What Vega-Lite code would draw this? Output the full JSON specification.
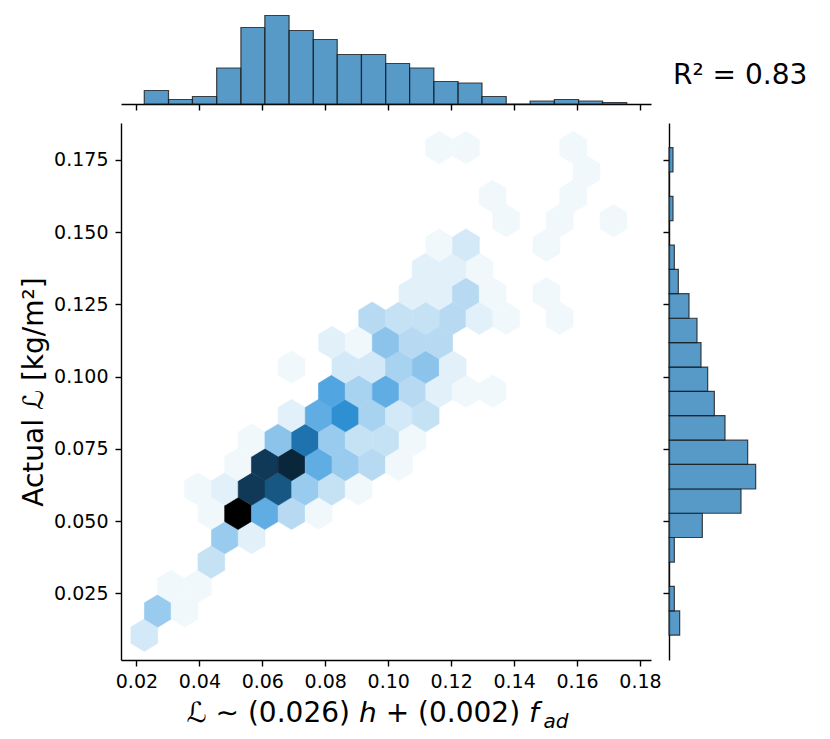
{
  "$schema": "https://vega.github.io/schema/vega-lite/v6.json",
  "padding": {"left": 20, "top": 11, "right": 5, "bottom": 5},
  "background": "white",
  "config": {
    "font": "DejaVu Sans",
    "view": {"stroke": null},
    "axis": {
      "grid": false,
      "domainColor": "#000000",
      "tickColor": "#000000",
      "labelColor": "#000000",
      "titleColor": "#000000",
      "domainWidth": 1.4,
      "tickWidth": 1.4,
      "tickSize": 6,
      "labelFontSize": 19,
      "titleFontSize": 28,
      "titleFontWeight": "normal",
      "labelFlush": false,
      "labelOverlap": false
    }
  },
  "datasets": {
    "hex": [
      {"x": 0.0225, "y": 0.0105, "n": 3},
      {"x": 0.0268, "y": 0.0189, "n": 7},
      {"x": 0.0353, "y": 0.0189, "n": 1},
      {"x": 0.031, "y": 0.0274, "n": 1},
      {"x": 0.0395, "y": 0.0274, "n": 1},
      {"x": 0.0438, "y": 0.0358, "n": 4},
      {"x": 0.0481, "y": 0.0443, "n": 7},
      {"x": 0.0566, "y": 0.0443, "n": 2},
      {"x": 0.0438, "y": 0.0527, "n": 1},
      {"x": 0.0523, "y": 0.0527, "n": 30},
      {"x": 0.0608, "y": 0.0527, "n": 11},
      {"x": 0.0693, "y": 0.0527, "n": 5},
      {"x": 0.0779, "y": 0.0527, "n": 1},
      {"x": 0.0395, "y": 0.0611, "n": 1},
      {"x": 0.0481, "y": 0.0611, "n": 2},
      {"x": 0.0566, "y": 0.0611, "n": 24},
      {"x": 0.0651, "y": 0.0611, "n": 21},
      {"x": 0.0736, "y": 0.0611, "n": 7},
      {"x": 0.0821, "y": 0.0611, "n": 4},
      {"x": 0.0906, "y": 0.0611, "n": 1},
      {"x": 0.0523, "y": 0.0696, "n": 1},
      {"x": 0.0608, "y": 0.0696, "n": 24},
      {"x": 0.0693, "y": 0.0696, "n": 26},
      {"x": 0.0779, "y": 0.0696, "n": 11},
      {"x": 0.0864, "y": 0.0696, "n": 7},
      {"x": 0.0949, "y": 0.0696, "n": 5},
      {"x": 0.1034, "y": 0.0696, "n": 1},
      {"x": 0.0566, "y": 0.078, "n": 1},
      {"x": 0.0651, "y": 0.078, "n": 8},
      {"x": 0.0736, "y": 0.078, "n": 18},
      {"x": 0.0821, "y": 0.078, "n": 7},
      {"x": 0.0906, "y": 0.078, "n": 4},
      {"x": 0.0992, "y": 0.078, "n": 4},
      {"x": 0.1077, "y": 0.078, "n": 1},
      {"x": 0.0693, "y": 0.0865, "n": 2},
      {"x": 0.0779, "y": 0.0865, "n": 11},
      {"x": 0.0864, "y": 0.0865, "n": 15},
      {"x": 0.0949, "y": 0.0865, "n": 6},
      {"x": 0.1034, "y": 0.0865, "n": 3},
      {"x": 0.1119, "y": 0.0865, "n": 4},
      {"x": 0.0821, "y": 0.0949, "n": 12},
      {"x": 0.0906, "y": 0.0949, "n": 6},
      {"x": 0.0992, "y": 0.0949, "n": 11},
      {"x": 0.1077, "y": 0.0949, "n": 5},
      {"x": 0.1162, "y": 0.0949, "n": 2},
      {"x": 0.1247, "y": 0.0949, "n": 1},
      {"x": 0.1332, "y": 0.0949, "n": 1},
      {"x": 0.0693, "y": 0.1033, "n": 1},
      {"x": 0.0864, "y": 0.1033, "n": 3},
      {"x": 0.0949, "y": 0.1033, "n": 3},
      {"x": 0.1034, "y": 0.1033, "n": 6},
      {"x": 0.1119, "y": 0.1033, "n": 8},
      {"x": 0.1205, "y": 0.1033, "n": 2},
      {"x": 0.0821, "y": 0.1118, "n": 2},
      {"x": 0.0906, "y": 0.1118, "n": 1},
      {"x": 0.0992, "y": 0.1118, "n": 8},
      {"x": 0.1077, "y": 0.1118, "n": 5},
      {"x": 0.1162, "y": 0.1118, "n": 5},
      {"x": 0.0949, "y": 0.1202, "n": 5},
      {"x": 0.1034, "y": 0.1202, "n": 4},
      {"x": 0.1119, "y": 0.1202, "n": 4},
      {"x": 0.1205, "y": 0.1202, "n": 5},
      {"x": 0.129, "y": 0.1202, "n": 2},
      {"x": 0.1375, "y": 0.1202, "n": 1},
      {"x": 0.1545, "y": 0.1202, "n": 1},
      {"x": 0.1077, "y": 0.1287, "n": 2},
      {"x": 0.1162, "y": 0.1287, "n": 2},
      {"x": 0.1247, "y": 0.1287, "n": 5},
      {"x": 0.1332, "y": 0.1287, "n": 1},
      {"x": 0.1503, "y": 0.1287, "n": 1},
      {"x": 0.1119, "y": 0.1371, "n": 2},
      {"x": 0.1205, "y": 0.1371, "n": 2},
      {"x": 0.129, "y": 0.1371, "n": 1},
      {"x": 0.1162, "y": 0.1455, "n": 1},
      {"x": 0.1247, "y": 0.1455, "n": 3},
      {"x": 0.1503, "y": 0.1455, "n": 1},
      {"x": 0.1375, "y": 0.154, "n": 1},
      {"x": 0.1545, "y": 0.154, "n": 1},
      {"x": 0.1716, "y": 0.154, "n": 1},
      {"x": 0.1332, "y": 0.1624, "n": 1},
      {"x": 0.1588, "y": 0.1624, "n": 1},
      {"x": 0.163, "y": 0.1709, "n": 1},
      {"x": 0.1162, "y": 0.1793, "n": 1},
      {"x": 0.1247, "y": 0.1793, "n": 1},
      {"x": 0.1588, "y": 0.1793, "n": 1}
    ],
    "xh": [
      {"x0": 0.0225, "x1": 0.0302, "n": 9},
      {"x0": 0.0302, "x1": 0.0378, "n": 3},
      {"x0": 0.0378, "x1": 0.0455, "n": 5},
      {"x0": 0.0455, "x1": 0.0532, "n": 24},
      {"x0": 0.0532, "x1": 0.0608, "n": 51},
      {"x0": 0.0608, "x1": 0.0685, "n": 59},
      {"x0": 0.0685, "x1": 0.0762, "n": 49},
      {"x0": 0.0762, "x1": 0.0838, "n": 43},
      {"x0": 0.0838, "x1": 0.0915, "n": 33},
      {"x0": 0.0915, "x1": 0.0992, "n": 33},
      {"x0": 0.0992, "x1": 0.1068, "n": 27},
      {"x0": 0.1068, "x1": 0.1145, "n": 24},
      {"x0": 0.1145, "x1": 0.1222, "n": 15},
      {"x0": 0.1222, "x1": 0.1298, "n": 14},
      {"x0": 0.1298, "x1": 0.1375, "n": 5},
      {"x0": 0.1375, "x1": 0.1451, "n": 0},
      {"x0": 0.1451, "x1": 0.1528, "n": 2},
      {"x0": 0.1528, "x1": 0.1605, "n": 3},
      {"x0": 0.1605, "x1": 0.1681, "n": 2},
      {"x0": 0.1681, "x1": 0.1758, "n": 1}
    ],
    "yh": [
      {"y0": 0.0105, "y1": 0.0189, "n": 8},
      {"y0": 0.0189, "y1": 0.0274, "n": 4},
      {"y0": 0.0274, "y1": 0.0358, "n": 0},
      {"y0": 0.0358, "y1": 0.0443, "n": 4},
      {"y0": 0.0443, "y1": 0.0527, "n": 25},
      {"y0": 0.0527, "y1": 0.0611, "n": 54},
      {"y0": 0.0611, "y1": 0.0696, "n": 65},
      {"y0": 0.0696, "y1": 0.078, "n": 59},
      {"y0": 0.078, "y1": 0.0865, "n": 42},
      {"y0": 0.0865, "y1": 0.0949, "n": 34},
      {"y0": 0.0949, "y1": 0.1033, "n": 29},
      {"y0": 0.1033, "y1": 0.1118, "n": 24},
      {"y0": 0.1118, "y1": 0.1202, "n": 21},
      {"y0": 0.1202, "y1": 0.1287, "n": 15},
      {"y0": 0.1287, "y1": 0.1371, "n": 7},
      {"y0": 0.1371, "y1": 0.1455, "n": 4},
      {"y0": 0.1455, "y1": 0.154, "n": 0},
      {"y0": 0.154, "y1": 0.1624, "n": 3},
      {"y0": 0.1624, "y1": 0.1709, "n": 0},
      {"y0": 0.1709, "y1": 0.1793, "n": 3}
    ]
  },
  "columns": 2,
  "bounds": "flush",
  "spacing": {"row": 19, "column": 18},
  "concat": [
    {
      "width": 530,
      "height": 93,
      "data": {"name": "xh"},
      "mark": {"type": "rect", "fill": "#1f77b4", "fillOpacity": 0.75, "stroke": "#1a1a1a", "strokeOpacity": 0.8, "strokeWidth": 1.2},
      "encoding": {
        "x": {
          "field": "x0",
          "type": "quantitative",
          "scale": {"domain": [0.0151, 0.1835], "nice": false, "zero": false},
          "axis": {"values": [0.02, 0.04, 0.06, 0.08, 0.1, 0.12, 0.14, 0.16, 0.18], "labels": false, "title": null}
        },
        "x2": {"field": "x1"},
        "y": {"field": "n", "type": "quantitative", "scale": {"domain": [0, 62], "nice": false}, "axis": null},
        "y2": {"datum": 0}
      }
    },
    {
      "width": 91,
      "height": 93,
      "data": {"values": []},
      "mark": "point"
    },
    {
      "width": 530,
      "height": 537,
      "data": {"name": "hex"},
      "title": {
        "text": "ad",
        "orient": "bottom",
        "anchor": "middle",
        "frame": "group",
        "dx": 170,
        "offset": 1,
        "baseline": "alphabetic",
        "fontSize": 20,
        "fontStyle": "italic",
        "fontWeight": "normal",
        "color": "#000000"
      },
      "mark": {
        "type": "point",
        "shape": "M0,-1L0.8246,-0.5L0.8246,0.5L0,1L-0.8246,0.5L-0.8246,-0.5Z",
        "filled": true,
        "opacity": 1,
        "size": 1056,
        "strokeWidth": 0.6
      },
      "encoding": {
        "x": {
          "field": "x",
          "type": "quantitative",
          "scale": {"domain": [0.0151, 0.1835], "nice": false, "zero": false},
          "axis": {
            "values": [0.02, 0.04, 0.06, 0.08, 0.1, 0.12, 0.14, 0.16, 0.18],
            "format": ".2f",
            "labelPadding": 6,
            "title": "ℒ ∼ (0.026) 𝘩 + (0.002) 𝘧",
            "titlePadding": 8,
            "titleAlign": "left",
            "titleX": 65
          }
        },
        "y": {
          "field": "y",
          "type": "quantitative",
          "scale": {"domain": [0.0019, 0.1878], "nice": false, "zero": false},
          "axis": {
            "values": [0.025, 0.05, 0.075, 0.1, 0.125, 0.15, 0.175],
            "format": ".3f",
            "labelPadding": 7,
            "title": "Actual ℒ [kg/m²]",
            "titlePadding": 5
          }
        },
        "fill": {
          "field": "n",
          "type": "quantitative",
          "legend": null,
          "scale": {
            "domain": [0, 2.727, 5.455, 8.182, 10.909, 13.636, 16.364, 19.091, 21.818, 24.545, 27.273, 30],
            "range": ["#ffffff", "#d7ebf8", "#b0d7f1", "#88c2eb", "#61aee4", "#399add", "#2283c6", "#1b699e", "#144f77", "#0e344f", "#071a28", "#000000"],
            "interpolate": "rgb"
          }
        },
        "stroke": {
          "field": "n",
          "type": "quantitative",
          "legend": null,
          "scale": {
            "domain": [0, 2.727, 5.455, 8.182, 10.909, 13.636, 16.364, 19.091, 21.818, 24.545, 27.273, 30],
            "range": ["#ffffff", "#d7ebf8", "#b0d7f1", "#88c2eb", "#61aee4", "#399add", "#2283c6", "#1b699e", "#144f77", "#0e344f", "#071a28", "#000000"],
            "interpolate": "rgb"
          }
        }
      }
    },
    {
      "width": 91,
      "height": 537,
      "data": {"name": "yh"},
      "title": {
        "text": "R² = 0.83",
        "anchor": "start",
        "frame": "group",
        "dx": 4,
        "offset": 11,
        "baseline": "alphabetic",
        "fontSize": 28,
        "fontWeight": "normal",
        "color": "#000000"
      },
      "mark": {"type": "rect", "fill": "#1f77b4", "fillOpacity": 0.75, "stroke": "#1a1a1a", "strokeOpacity": 0.8, "strokeWidth": 1.2},
      "encoding": {
        "y": {
          "field": "y0",
          "type": "quantitative",
          "scale": {"domain": [0.0019, 0.1878], "nice": false, "zero": false},
          "axis": {"values": [0.025, 0.05, 0.075, 0.1, 0.125, 0.15, 0.175], "labels": false, "title": null}
        },
        "y2": {"field": "y1"},
        "x": {"field": "n", "type": "quantitative", "scale": {"domain": [0, 68.25], "nice": false}, "axis": null},
        "x2": {"datum": 0}
      }
    }
  ]
}
